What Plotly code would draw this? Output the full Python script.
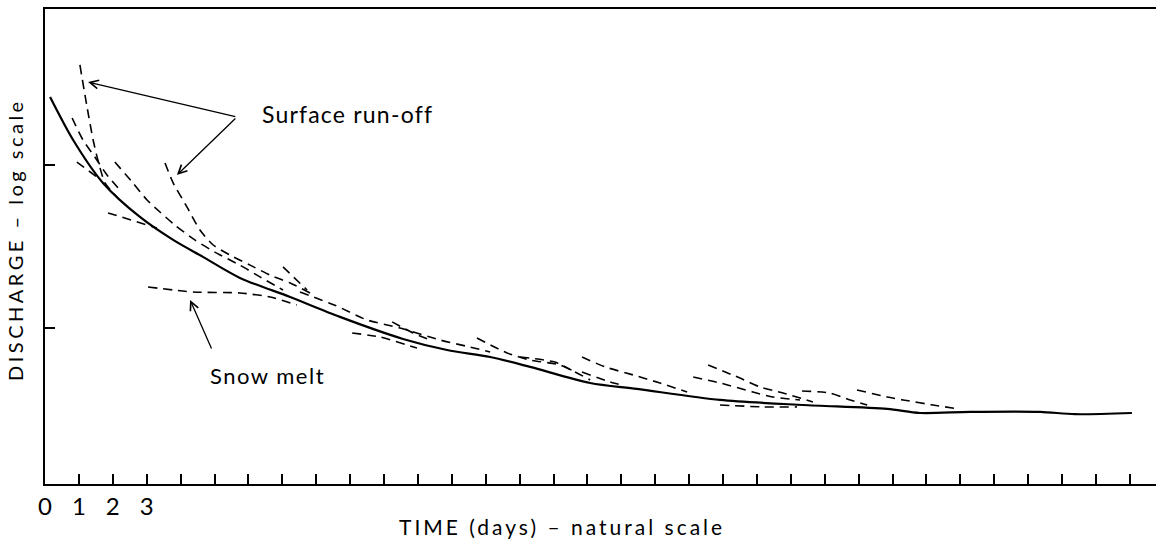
import numpy as np
import plotly.graph_objects as go

# ---- master recession curve (solid) ----
solid_days = [0.15, 0.83, 1.71, 2.80, 3.78, 4.66, 5.75, 7.23, 8.70, 10.56, 11.86, 13.13,
              14.31, 16.08, 17.46, 19.91, 22.36, 24.84, 25.81, 27.29, 29.35, 30.38, 32.06]
solid_q = [2612, 1423, 776, 480, 347, 273, 203, 155, 117, 85.7, 73.3, 66.4,
           57.7, 46.0, 42.3, 36.2, 33.7, 31.9, 30.1, 30.6, 30.6, 29.6, 30.1]

# ---- individual recession segments (dashed) ----
runoff_days = [
    [1.03, 1.24, 1.42, 1.56, 1.77, 2.15],
    [0.80, 1.12, 1.47, 1.83, 2.21],
    [3.54, 3.78, 4.19, 4.57, 4.96, 5.46, 6.05, 6.64, 7.23, 7.82],
]
runoff_q = [
    [4107, 2270, 1423, 1073, 776, 627],
    [1942, 1423, 1120, 868, 702],
    [1029, 776, 552, 399, 323, 280, 243, 211, 189, 164],
]

snowmelt_days = [3.04, 4.37, 5.75, 6.64, 7.43]
snowmelt_q = [178.5, 166.3, 164, 155, 138.4]

recession_days = [
    [0.94, 1.53],
    [2.06, 2.57, 3.01, 3.39, 3.83, 4.42, 5.01, 5.75, 6.34, 7.02],
    [7.02, 7.73],
    [1.86, 3.30],
    [7.52, 8.55, 9.50, 10.47, 11.65, 12.54, 13.13],
    [10.24, 10.86, 11.36],
    [9.06, 9.88, 10.97],
    [12.74, 13.63, 14.31, 15.19, 16.08],
    [14.01, 15.04, 15.63],
    [15.84, 16.52, 17.35, 18.14, 18.94],
    [15.84, 16.67, 17.02],
    [19.12, 19.91, 20.88, 21.47, 22.27],
    [19.56, 20.50, 21.09, 21.77, 22.65],
    [22.33, 23.16, 23.75, 24.25],
    [23.95, 24.84, 25.31, 26.19, 26.99],
    [19.91, 21.18, 22.18],
]
recession_q = [
    [1043, 844],
    [1043, 786, 610, 515, 428, 347, 292, 243, 206, 171],
    [237, 171],
    [508, 411],
    [166, 138, 112, 100, 84.4, 76.4, 71.3],
    [109, 93.1, 84.4],
    [93.1, 88.1, 75.3],
    [86.9, 70.3, 63.6, 59.3, 48.0],
    [66.4, 61.8, 53.7],
    [66.4, 57.7, 51.5, 46.0, 40.5],
    [53.7, 46.7, 44.7],
    [50.0, 46.0, 40.5, 37.7, 36.2],
    [59.3, 49.3, 43.5, 39.9, 35.2],
    [41.1, 39.9, 36.2, 33.7],
    [41.7, 37.7, 36.2, 33.7, 31.8],
    [33.7, 32.8, 32.8],
]

# axis ticks
x_tick_days = list(range(0, 33))
x_tick_text = ["0", "1", "2", "3"] + [""] * 29
y_tick_vals = [100, 1000]

FONT = "Lato"
DASH = "9px,6px"


def spaced(txt, px):
    return f'<span style="letter-spacing:{px}px">{txt}</span>'


fig = go.Figure()

fig.add_trace(go.Scatter(x=solid_days, y=solid_q, mode="lines",
                         line=dict(color="black", width=2.2, shape="spline", smoothing=0.8),
                         hoverinfo="skip", showlegend=False))

for xs, ys in zip(runoff_days + recession_days + [snowmelt_days],
                  runoff_q + recession_q + [snowmelt_q]):
    fig.add_trace(go.Scatter(x=xs, y=ys, mode="lines",
                             line=dict(color="black", width=1.6, dash=DASH, shape="spline", smoothing=0.6),
                             hoverinfo="skip", showlegend=False))

lg = np.log10
# arrows for "Surface run-off"
vertex = (5.66, 1970)
heads = [(1.27, 3229), (3.89, 868)]
for hx, hy in heads:
    fig.add_annotation(x=hx, y=lg(hy), ax=vertex[0], ay=lg(vertex[1]),
                       xref="x", yref="y", axref="x", ayref="y",
                       text="", showarrow=True, arrowhead=5, arrowsize=1.3,
                       arrowwidth=1.3, arrowcolor="black", standoff=0, startstandoff=0)
fig.add_annotation(x=6.34, y=lg(2056), xref="x", yref="y",
                   text=spaced("Surface run-off", 1.2),
                   showarrow=False, xanchor="left", yanchor="middle",
                   font=dict(family=FONT, size=23, color="black"))

# arrow for "Snow melt"
fig.add_annotation(x=4.28, y=lg(148.6), ax=4.93, ay=lg(73.3),
                   xref="x", yref="y", axref="x", ayref="y",
                   text="", showarrow=True, arrowhead=5, arrowsize=1.3,
                   arrowwidth=1.3, arrowcolor="black", standoff=0, startstandoff=0)
fig.add_annotation(x=4.81, y=lg(50.8), xref="x", yref="y",
                   text=spaced("Snow melt", 1.5),
                   showarrow=False, xanchor="left", yanchor="middle",
                   font=dict(family=FONT, size=22, color="black"))

# axis titles
fig.add_annotation(x=-0.027, y=0.5137, xref="paper", yref="paper",
                   text=spaced("DISCHARGE – log scale", 3.5), textangle=-90, showarrow=False,
                   xanchor="center", yanchor="middle",
                   font=dict(family=FONT, size=20, color="black"))
fig.add_annotation(x=0.4653, y=-0.0905, xref="paper", yref="paper",
                   text=spaced("TIME (days) – natural scale", 3.0), showarrow=False,
                   xanchor="center", yanchor="middle",
                   font=dict(family=FONT, size=21, color="black"))

fig.update_xaxes(range=[0, 32.77], showgrid=False, zeroline=False,
                 showline=True, linecolor="black", linewidth=2, mirror=True,
                 ticks="inside", ticklen=10, tickwidth=1.5, tickcolor="black",
                 tickvals=x_tick_days, ticktext=x_tick_text,
                 tickfont=dict(family=FONT, size=24, color="black"))
fig.update_yaxes(type="log", range=[1.043, 3.957], showgrid=False, zeroline=False,
                 showline=True, linecolor="black", linewidth=2, mirror=False,
                 ticks="inside", ticklen=10, tickwidth=1.5, tickcolor="black",
                 tickvals=y_tick_vals, showticklabels=False)

fig.update_layout(width=1156, height=543, plot_bgcolor="white", paper_bgcolor="white",
                  margin=dict(l=45, r=0, t=9, b=59), showlegend=False)

fig.write_html("out.html")
